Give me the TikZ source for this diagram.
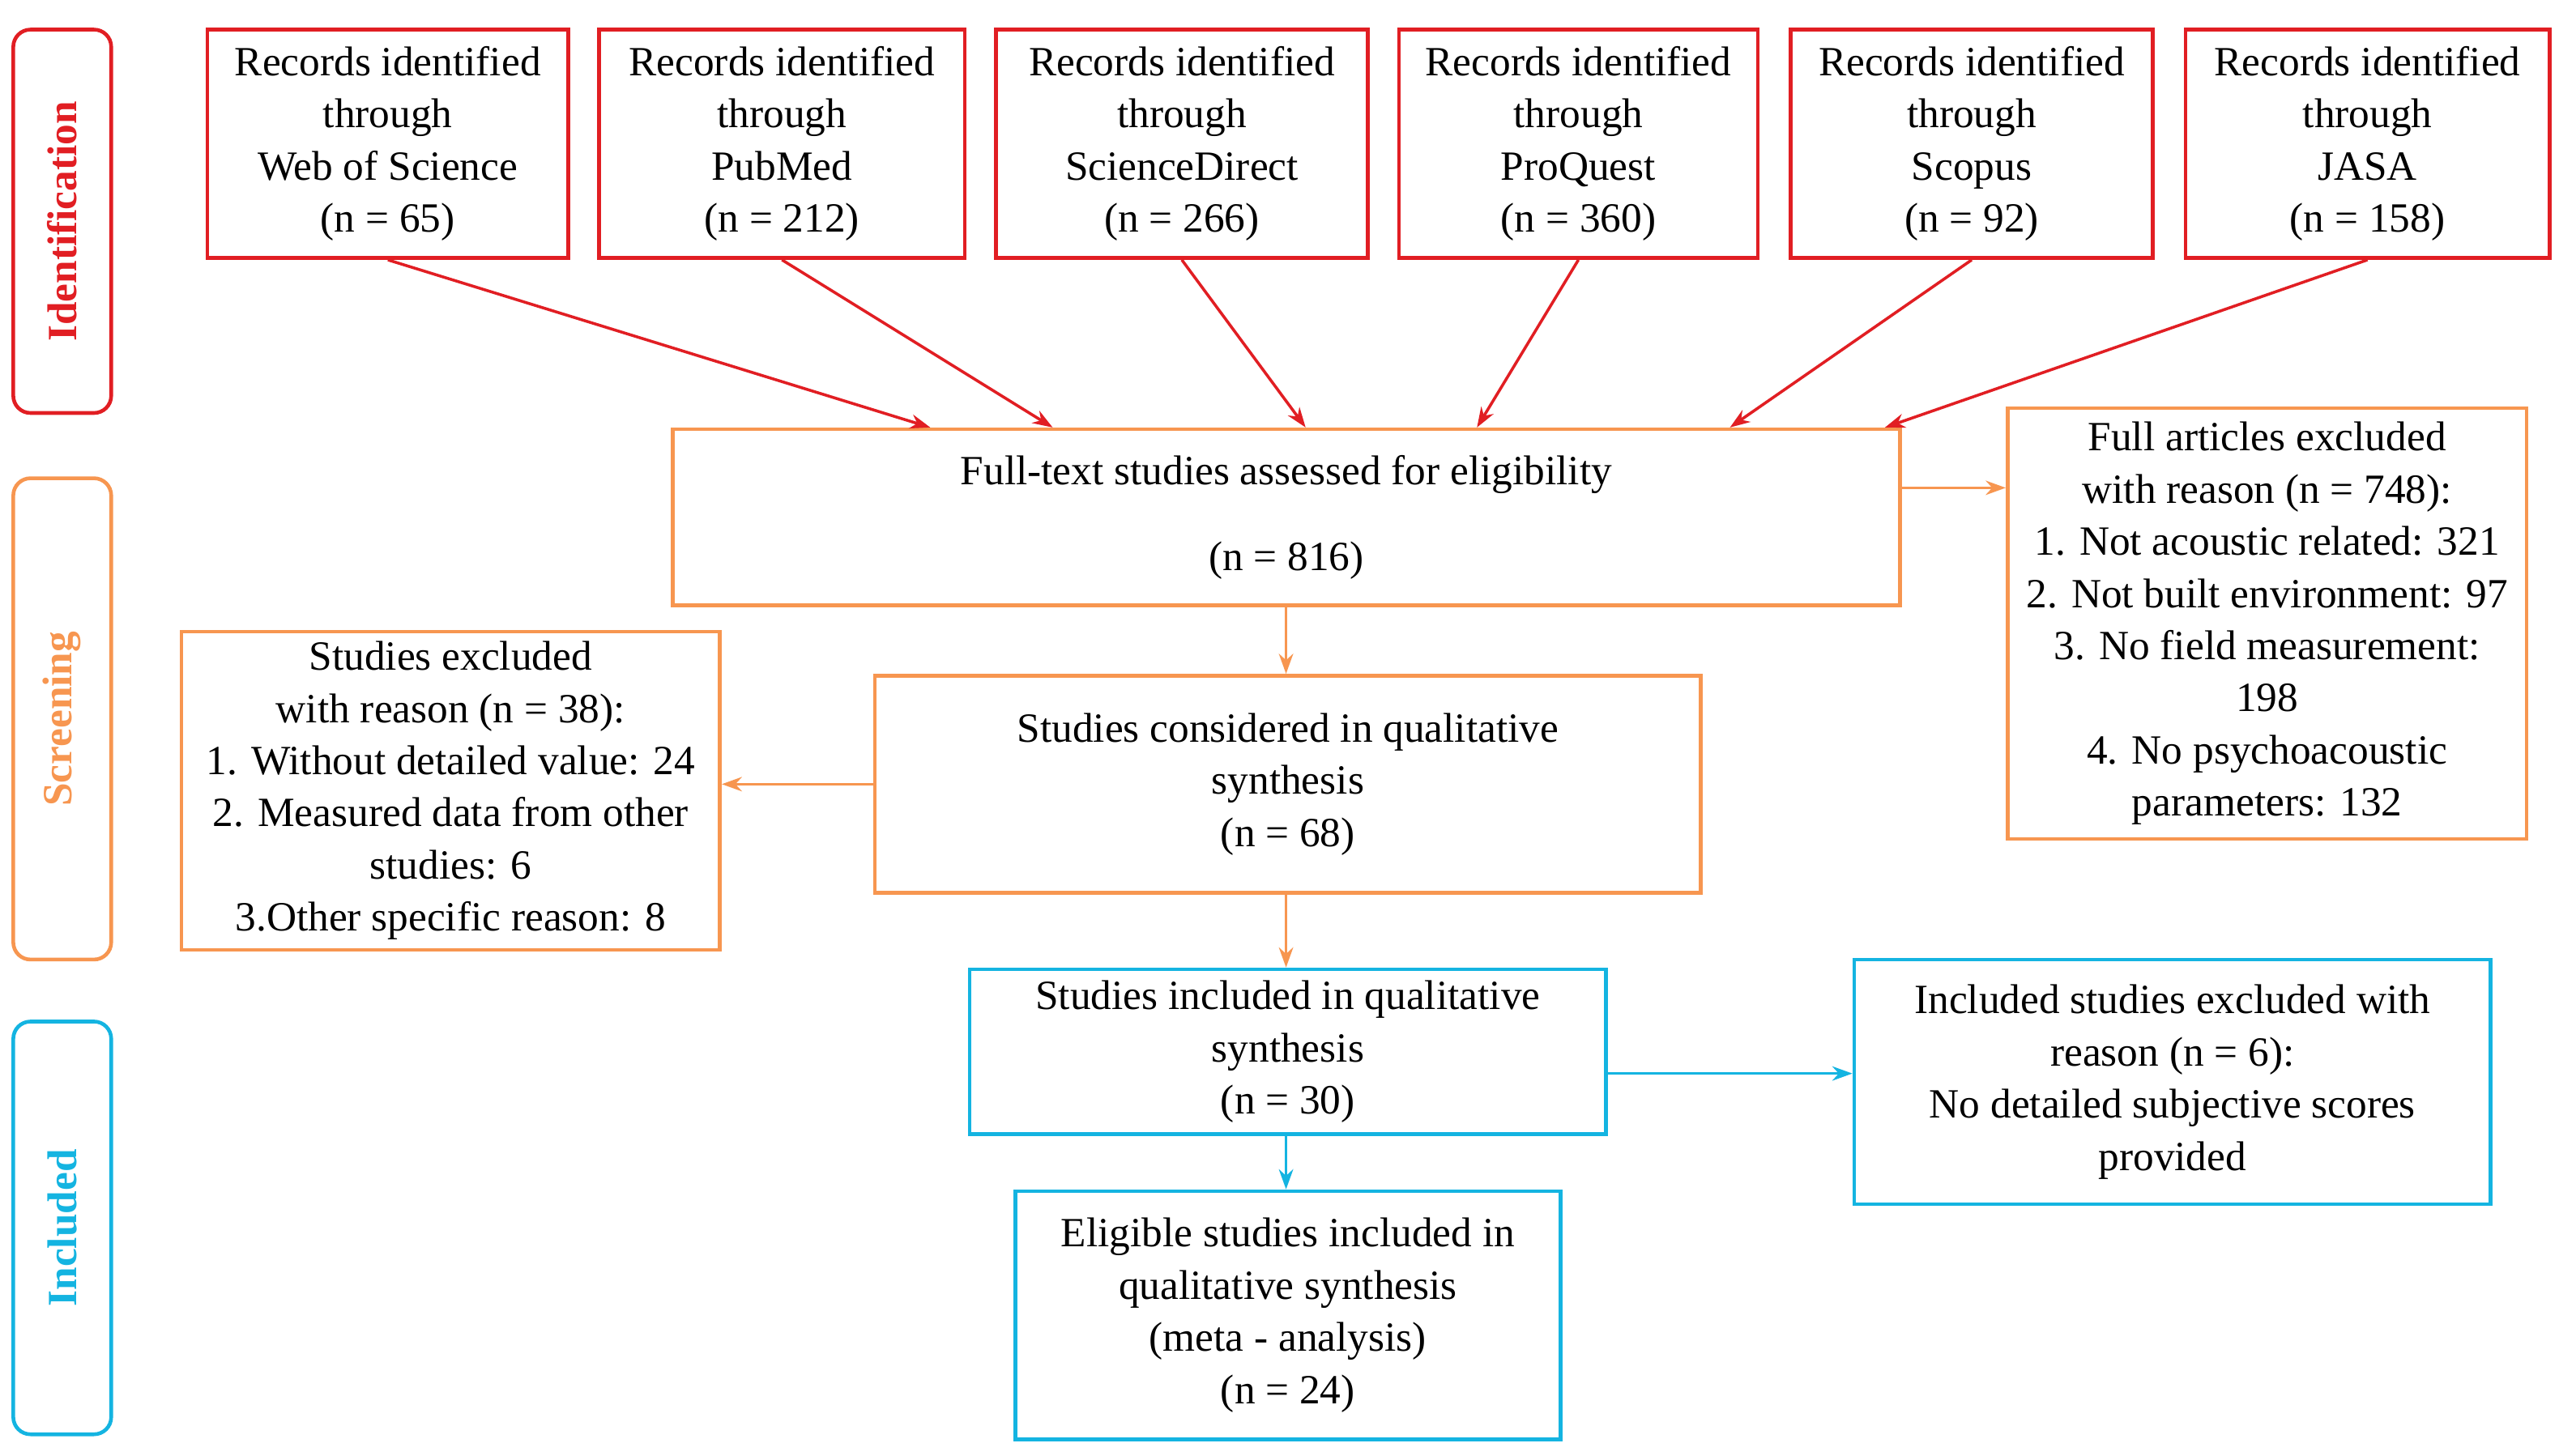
\documentclass[tikz,border=0pt]{standalone}
\usepackage{fontspec}
\setmainfont{Liberation Serif}
\usetikzlibrary{arrows.meta}
\definecolor{cred}{RGB}{225,30,35}
\definecolor{corg}{RGB}{247,150,80}
\definecolor{ccyan}{RGB}{20,180,225}
\tikzset{
 bx/.style={draw=#1,line width=1.3pt,align=center,inner sep=0pt,anchor=north west,font=\fontsize{14.5}{18.2}\selectfont},
 side/.style={draw=#1,line width=1.3pt,rounded corners=6pt,anchor=north west,inner sep=0pt},
 arr/.style={draw=#1,line width=1pt,-{Stealth[length=7pt,width=5pt]}},
}
\newcommand{\bxat}[6]{\node[bx=#1,minimum width=#4*0.02cm,minimum height=#5*0.02cm] (#2) at #3 {#6};}
\begin{document}
\begin{tikzpicture}[x=0.02cm,y=-0.02cm]
\useasboundingbox[fill=white] (0,0) rectangle (1568,892);
% side labels
\node[side=cred,minimum width=60*0.02cm,minimum height=235*0.02cm] (s1) at (7,17) {};
\node[rotate=90,text=cred,font=\fontsize{14.5}{18}\selectfont\bfseries] at (s1.center) {Identification};
\node[side=corg,minimum width=60*0.02cm,minimum height=295*0.02cm] (s2) at (7,292) {};
\node[rotate=90,text=corg,font=\fontsize{14.5}{18}\selectfont\bfseries] at (s2.center) {Screening};
\node[side=ccyan,minimum width=60*0.02cm,minimum height=253*0.02cm] (s3) at (7,625) {};
\node[rotate=90,text=ccyan,font=\fontsize{14.5}{18}\selectfont\bfseries] at (s3.center) {Included};
% top
\bxat{cred}{a1}{(126,17)}{221}{140}{Records identified\\through\\Web of Science\\(n = 65)}
\bxat{cred}{a2}{(366,17)}{224}{140}{Records identified\\through\\PubMed\\(n = 212)}
\bxat{cred}{a3}{(609,17)}{228}{140}{Records identified\\through\\ScienceDirect\\(n = 266)}
\bxat{cred}{a4}{(856,17)}{220}{140}{Records identified\\through\\ProQuest\\(n = 360)}
\bxat{cred}{a5}{(1096,17)}{222}{140}{Records identified\\through\\Scopus\\(n = 92)}
\bxat{cred}{a6}{(1338,17)}{223}{140}{Records identified\\through\\JASA\\(n = 158)}
% middle
\bxat{corg}{ft}{(411,262)}{752}{108}{Full-text studies assessed for eligibility\\[12pt](n = 816)}
\bxat{corg}{fx}{(1229,249)}{318}{264}{Full articles excluded\\with reason (n = 748):\\1. Not acoustic related: 321\\2. Not built environment: 97\\3. No field measurement:\\198\\4. No psychoacoustic\\parameters: 132}
\bxat{corg}{sx}{(110,386)}{330}{195}{Studies excluded\\with reason (n = 38):\\1. Without detailed value: 24\\2. Measured data from other\\studies: 6\\3.Other specific reason: 8}
\bxat{corg}{sc}{(535,413)}{506}{133}{Studies considered in qualitative\\synthesis\\(n = 68)}
\bxat{ccyan}{si}{(593,593)}{390}{101}{Studies included in qualitative\\synthesis\\(n = 30)}
\bxat{ccyan}{ix}{(1135,587)}{390}{150}{Included studies excluded with\\reason (n = 6):\\No detailed subjective scores\\provided}
\bxat{ccyan}{el}{(621,729)}{334}{152}{Eligible studies included in\\qualitative synthesis\\(meta - analysis)\\(n = 24)}
% arrows
\coordinate (t1) at (570,262); \coordinate (t2) at (645,262); \coordinate (t3) at (800,262);
\coordinate (t4) at (905,262); \coordinate (t5) at (1060,262); \coordinate (t6) at (1155,262);
\draw[arr=cred] (a1.south) -- (t1);
\draw[arr=cred] (a2.south) -- (t2);
\draw[arr=cred] (a3.south) -- (t3);
\draw[arr=cred] (a4.south) -- (t4);
\draw[arr=cred] (a5.south) -- (t5);
\draw[arr=cred] (a6.south) -- (t6);
\draw[arr=corg] (ft.east|-1163,299) -- (fx.west|-1163,299);
\draw[arr=corg] (788,370) -- (788,413);
\draw[arr=corg] (sc.west) -- (sx.east|-sc.west);
\draw[arr=corg] (788,546) -- (788,593);
\draw[arr=ccyan] (si.east|-983,658) -- (ix.west|-983,658);
\draw[arr=ccyan] (788,694) -- (788,729);
\end{tikzpicture}
\end{document}
